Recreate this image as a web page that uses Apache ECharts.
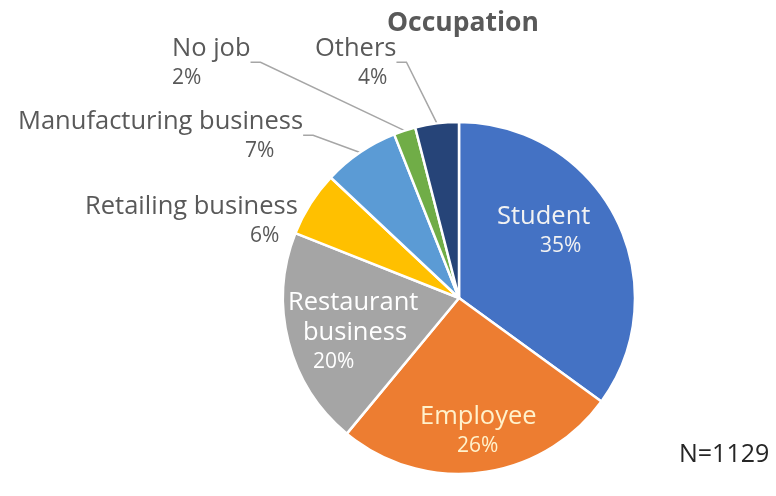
<!DOCTYPE html>
<html>
<head>
<meta charset="utf-8">
<script src="https://cdn.jsdelivr.net/npm/echarts@6/dist/echarts.min.js"></script>
<style>
html,body{margin:0;padding:0;background:#fff;}
#c{width:776px;height:496px;}
</style>
</head>
<body>
<div id="c"></div>
<script>
const categories = ['Student', 'Employee', 'Restaurant\nbusiness', 'Retailing business', 'Manufacturing business', 'No job', 'Others'];
const values = [35, 26, 20, 6, 7, 2, 4];
const colors = ['#4472C4', '#ED7D31', '#A5A5A5', '#FFC000', '#5B9BD5', '#70AD47', '#264478'];
const titleText = 'Occupation';
const noteText = 'N=1129';

// label layout: [left x of block, center y of block, per-line left paddings]
const labelPos = [
  { x: 497, y: 231, pads: [0, 43], color: '#F2F2F2', inside: true },
  { x: 420, y: 431, pads: [0, 37], color: '#FFF2CC', inside: true },
  { x: 288, y: 332, pads: [0, 15, 25], color: '#FFFFFF', inside: true },
  { x: 85, y: 221, pads: [0, 165], color: '#595959' },
  { x: 18, y: 136, pads: [0, 227], color: '#595959' },
  { x: 172, y: 63, pads: [0, 0], color: '#595959' },
  { x: 315, y: 63, pads: [0, 43], color: '#595959' }
];

const FONT = 'Open Sans';
const data = categories.map((name, i) => {
  const lp = labelPos[i];
  const rich = {};
  const lines = name.split('\n');
  lines.forEach((ln, k) => {
    rich['n' + k] = { fontSize: 25.5, fontFamily: FONT, color: lp.color, lineHeight: 30, padding: [0, 0, 0, lp.pads[k]] };
  });
  rich.p = { fontSize: 21, fontFamily: FONT, color: lp.color, lineHeight: 28, padding: [0, 0, 0, lp.pads[lines.length]] };
  return {
    name: name,
    value: values[i],
    itemStyle: { color: colors[i] },
    label: {
      position: lp.inside ? 'inside' : 'outside',
      rich: rich,
      formatter: (p) => lines.map((ln, k) => '{n' + k + '|' + ln + '}').join('\n') + '\n{p|' + Math.round(p.percent) + '%}'
    },
    labelLine: { show: !lp.inside && i !== 3 }
  };
});

const chart = echarts.init(document.getElementById('c'), null, { renderer: 'canvas' });
chart.setOption({
  animation: false,
  backgroundColor: '#ffffff',
  title: [
    { text: titleText, left: 382, top: 5, textStyle: { fontFamily: FONT, fontSize: 26.5, fontWeight: 'bold', color: '#595959' } },
    { text: noteText, left: 674, top: 437, textStyle: { fontFamily: FONT, fontSize: 25, fontWeight: 'normal', color: '#262626' } }
  ],
  series: [{
    type: 'pie',
    center: [459, 298],
    radius: [0, 176],
    startAngle: 90,
    clockwise: true,
    avoidLabelOverlap: false,
    itemStyle: { borderColor: '#ffffff', borderWidth: 2.5 },
    label: { show: true, align: 'left' },
    labelLine: { show: true, length: 10, length2: 10, smooth: false, lineStyle: { color: '#A6A6A6', width: 1.5 } },
    labelLayout: (params) => {
      const lp = labelPos[params.dataIndex];
      return { x: lp.x, y: lp.y, align: 'left', verticalAlign: 'middle' };
    },
    data: data
  }]
});
</script>
</body>
</html>
